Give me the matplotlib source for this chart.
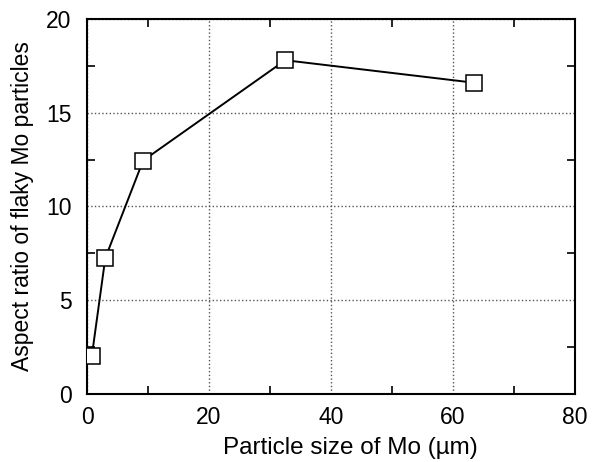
import matplotlib
matplotlib.use('Agg')
import matplotlib.pyplot as plt
from matplotlib.ticker import MultipleLocator

plt.rcParams['font.family'] = ['Liberation Sans', 'DejaVu Sans']

# particle size (um) vs aspect ratio
size_um = [0.8, 3.0, 9.2, 32.5, 63.5]
aspect_ratio = [2.05, 7.25, 12.45, 17.8, 16.6]

fig = plt.figure(figsize=(6.03, 4.62), dpi=100)
ax = fig.add_axes([0.1443, 0.1472, 0.8093, 0.8117])

ax.plot(size_um, aspect_ratio, color='black', linewidth=1.4, marker='s',
        markersize=11, markerfacecolor='white', markeredgecolor='black',
        markeredgewidth=1.1, zorder=3)

ax.set_xlim(0, 80)
ax.set_ylim(0, 20)
ax.xaxis.set_major_locator(MultipleLocator(20))
ax.xaxis.set_minor_locator(MultipleLocator(10))
ax.yaxis.set_major_locator(MultipleLocator(5))
ax.yaxis.set_minor_locator(MultipleLocator(2.5))

ax.grid(which='major', linestyle=':', color='#555555', linewidth=1.0)
ax.tick_params(which='major', length=0, labelsize=16.5, pad=9)
ax.tick_params(axis='y', which='major', pad=11)
ax.tick_params(which='minor', direction='in', length=6, width=1.2,
               top=True, right=True)
for sp in ax.spines.values():
    sp.set_linewidth(1.5)

ax.set_xlabel('Particle size of Mo (\u00b5m)', fontsize=17.5)
ax.xaxis.set_label_coords(0.54, -0.115)
ax.set_ylabel('Aspect ratio of flaky Mo particles', fontsize=16.5, labelpad=9)

fig.savefig('out.png', dpi=100)
